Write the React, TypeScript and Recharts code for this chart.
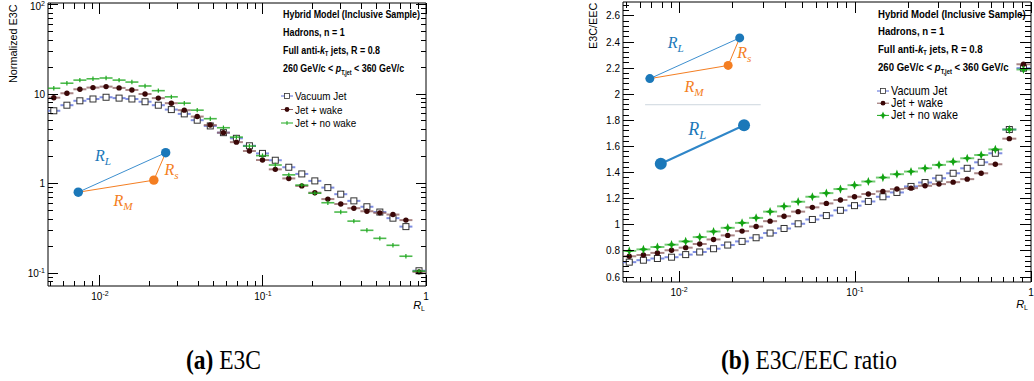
import React from 'react';
import { ScatterChart, Scatter, XAxis, YAxis, ReferenceArea, ReferenceLine, ReferenceDot } from 'recharts';

// R_L bin centres (same binning in both panels)
const rL = [0.00521, 0.00627, 0.00753, 0.00906, 0.0109, 0.0131, 0.0157, 0.0189, 0.0228, 0.0274,
  0.0329, 0.0395, 0.0475, 0.0572, 0.0687, 0.0826, 0.0993, 0.119, 0.144, 0.173,
  0.208, 0.25, 0.3, 0.361, 0.434, 0.521, 0.627, 0.753, 0.906];

// (a) normalized E3C
const e3cVacuum = [6.5, 7.5, 8.4, 8.8, 9.2, 9.0, 8.8, 8.2, 7.5, 6.7, 6.0, 5.1, 4.4, 3.7, 3.2,
  2.64, 2.17, 1.82, 1.52, 1.28, 1.07, 0.9, 0.76, 0.64, 0.55, 0.48, 0.41, 0.33, 0.106];
const e3cWake = [9.1, 10.2, 11.3, 11.8, 12.1, 11.7, 11.1, 10.0, 9.0, 7.9, 6.6, 5.6, 4.5, 3.7, 2.9,
  2.31, 1.83, 1.44, 1.14, 0.94, 0.79, 0.67, 0.59, 0.53, 0.49, 0.47, 0.45, 0.39, 0.103];
const e3cNoWake = [11.6, 13.2, 14.3, 14.8, 15.1, 14.3, 13.6, 12.3, 10.9, 9.3, 7.9, 6.6, 5.3, 4.2, 3.3,
  2.62, 2.05, 1.61, 1.25, 0.96, 0.78, 0.61, 0.48, 0.38, 0.3, 0.244, 0.204, 0.154, 0.105];

// (b) E3C/EEC ratio
const ratioVacuum = [0.714, 0.729, 0.742, 0.752, 0.772, 0.792, 0.817, 0.845, 0.873, 0.901, 0.937, 0.972, 1.008, 1.041,
  1.071, 1.111, 1.147, 1.179, 1.215, 1.248, 1.294, 1.324, 1.357, 1.395, 1.433, 1.479, 1.548, 1.73, 2.2];
const ratioWake = [0.759, 0.769, 0.785, 0.805, 0.825, 0.853, 0.888, 0.919, 0.952, 0.987, 1.028, 1.066, 1.101, 1.134,
  1.164, 1.19, 1.215, 1.236, 1.256, 1.274, 1.281, 1.299, 1.312, 1.327, 1.35, 1.395, 1.464, 1.66, 2.23];
const ratioNoWake = [0.8, 0.812, 0.83, 0.848, 0.873, 0.906, 0.949, 0.977, 1.015, 1.053, 1.101, 1.142, 1.177, 1.215,
  1.243, 1.274, 1.304, 1.332, 1.362, 1.388, 1.408, 1.433, 1.459, 1.484, 1.51, 1.535, 1.578, 1.73, 2.19];

// axis ticks
const xMajor = [0.01, 0.1, 1];
const xMinor = [0.005, 0.006, 0.007, 0.008, 0.009, 0.02, 0.03, 0.04, 0.05, 0.06, 0.07, 0.08, 0.09,
  0.2, 0.3, 0.4, 0.5, 0.6, 0.7, 0.8, 0.9];
const e3cMajor = [0.1, 1, 10, 100];
const e3cMinor = [0.08, 0.09, 0.2, 0.3, 0.4, 0.5, 0.6, 0.7, 0.8, 0.9, 2, 3, 4, 5, 6, 7, 8, 9,
  20, 30, 40, 50, 60, 70, 80, 90];
const ratioMajor = [0.6, 0.8, 1, 1.2, 1.4, 1.6, 1.8, 2, 2.2, 2.4, 2.6];
const ratioMinor = [0.64, 0.68, 0.72, 0.76, 0.84, 0.88, 0.92, 0.96, 1.04, 1.08, 1.12, 1.16,
  1.24, 1.28, 1.32, 1.36, 1.44, 1.48, 1.52, 1.56, 1.64, 1.68, 1.72, 1.76, 1.84, 1.88, 1.92, 1.96,
  2.04, 2.08, 2.12, 2.16, 2.24, 2.28, 2.32, 2.36, 2.44, 2.48, 2.52, 2.56, 2.64, 2.68];

const X_DOMAIN: [number, number] = [0.0048, 1];
const E3C_DOMAIN: [number, number] = [0.0716, 104];
const RATIO_DOMAIN: [number, number] = [0.562, 2.707];

const SANS = '"Liberation Sans", Arial, Helvetica, sans-serif';
const SERIF = '"Liberation Serif", "Times New Roman", serif';
const BLUE_BAR = '#5468d8';
const WAKE_BAR = '#8c5c5c';
const GREEN = '#1ea81e';
const WAKE_DOT = '#3a0707';
const INSET_BLUE = '#1b78b9';
const INSET_ORANGE = '#f47e22';

type Box = { l: number; r: number; t: number; b: number };
const LEFT_BOX: Box = { l: 48, r: 426, t: 3, b: 286 };
const RIGHT_BOX: Box = { l: 63, r: 471, t: 2, b: 282 };

const isIn = (v: number, list: number[]) => list.some((m) => Math.abs(v / m - 1) < 1e-6);

const toPoints = (ys: number[]) => rL.map((x, i) => ({ x, y: ys[i] }));

const powLabel = (v: number) => {
  if (isIn(v, [1])) return <tspan>1</tspan>;
  if (isIn(v, [10])) return <tspan>10</tspan>;
  const e = Math.round(Math.log10(v));
  return (
    <>
      <tspan>10</tspan>
      <tspan fontSize={7} dy={-4}>{`${e}`}</tspan>
    </>
  );
};

const makeXTick = (box: Box, major: number, minor: number) => (p: any) => {
  const v = p.payload.value;
  const isMaj = isIn(v, xMajor);
  const len = isMaj ? major : minor;
  return (
    <g>
      <line x1={p.x} x2={p.x} y1={box.b} y2={box.b - len} stroke="#000" shapeRendering="crispEdges" />
      <line x1={p.x} x2={p.x} y1={box.t} y2={box.t + len} stroke="#000" shapeRendering="crispEdges" />
      {isMaj && (
        <text x={p.x} y={box.b + 14} textAnchor="middle" fontSize={10} fontFamily={SANS} fill="#000">
          {powLabel(v)}
        </text>
      )}
    </g>
  );
};

const makeYTick = (box: Box, majors: number[], log: boolean, major: number, minor: number) => (p: any) => {
  const v = p.payload.value;
  const isMaj = isIn(v, majors);
  const len = isMaj ? major : minor;
  return (
    <g>
      <line x1={box.l} x2={box.l + len} y1={p.y} y2={p.y} stroke="#000" shapeRendering="crispEdges" />
      <line x1={box.r} x2={box.r - len} y1={p.y} y2={p.y} stroke="#000" shapeRendering="crispEdges" />
      {isMaj && (
        <text x={box.l - 3} y={Math.max(p.y + 3.5, 10)} textAnchor="end" fontSize={10} fontFamily={SANS} fill="#000">
          {log ? powLabel(v) : `${Math.round(v * 10) / 10}`}
        </text>
      )}
    </g>
  );
};

const vacuumShape = (half: number) => (p: any) => (
  <g>
    <line x1={p.cx - half} x2={p.cx + half} y1={p.cy} y2={p.cy} stroke={BLUE_BAR} strokeWidth={2} strokeOpacity={0.75} />
    <rect x={p.cx - 3} y={p.cy - 3} width={6} height={6} fill="#fff" stroke="#333" />
  </g>
);

const wakeShape = (half: number) => (p: any) => (
  <g>
    <line x1={p.cx - half} x2={p.cx + half} y1={p.cy} y2={p.cy} stroke={WAKE_BAR} strokeWidth={2} strokeOpacity={0.75} />
    <circle cx={p.cx} cy={p.cy} r={2.7} fill={WAKE_DOT} />
  </g>
);

const plusShape = (half: number) => (p: any) => (
  <g>
    <line x1={p.cx - half} x2={p.cx + half} y1={p.cy} y2={p.cy} stroke={GREEN} strokeWidth={1.6} strokeOpacity={0.8} />
    <line x1={p.cx} x2={p.cx} y1={p.cy - 2.2} y2={p.cy + 2.2} stroke={GREEN} strokeWidth={1.2} />
  </g>
);

const starPath = (cx: number, cy: number, a: number, b: number) =>
  `M${cx},${cy - a}L${cx + b},${cy - b}L${cx + a},${cy}L${cx + b},${cy + b}L${cx},${cy + a}L${cx - b},${cy + b}L${cx - a},${cy}L${cx - b},${cy - b}Z`;

const starShape = (half: number) => (p: any) => (
  <g>
    <line x1={p.cx - half} x2={p.cx + half} y1={p.cy} y2={p.cy} stroke={GREEN} strokeWidth={2} strokeOpacity={0.6} />
    <path d={starPath(p.cx, p.cy, 4.6, 1.3)} fill="#12a312" />
  </g>
);

const insetLabel = (sub: string, color: string, size: number) => (p: any) => (
  <text x={p.cx} y={p.cy + size * 0.3} textAnchor="middle" fill={color} fontFamily={SERIF} fontStyle="italic" fontSize={size}>
    R<tspan fontSize={size * 0.7} dy={size * 0.25}>{sub}</tspan>
  </text>
);

// inset sketch positions, in data coordinates of each panel
const leftInset = { a: { x: 0.00736, y: 0.8 }, b: { x: 0.0253, y: 2.21 }, c: { x: 0.0214, y: 1.09 } };
const rightInset = { a: { x: 0.00682, y: 2.12 }, b: { x: 0.0221, y: 2.432 }, c: { x: 0.019, y: 2.221 } };
const rightBig = { a: { x: 0.00787, y: 1.468 }, b: { x: 0.0234, y: 1.763 } };

const E3CPanel = () => (
  <ScatterChart width={440} height={320} margin={{ top: 3, right: 14, bottom: 4, left: 8 }}>
    <XAxis dataKey="x" type="number" scale="log" domain={X_DOMAIN} allowDataOverflow ticks={[...xMajor, ...xMinor]}
      interval={0} tick={makeXTick(LEFT_BOX, 11, 5.5)} tickLine={false} axisLine={false} height={30} />
    <YAxis dataKey="y" type="number" scale="log" domain={E3C_DOMAIN} allowDataOverflow ticks={[...e3cMajor, ...e3cMinor]}
      interval={0} tick={makeYTick(LEFT_BOX, e3cMajor, true, 10, 5)} tickLine={false} axisLine={false} width={40} />
    <ReferenceArea x1={X_DOMAIN[0]} x2={X_DOMAIN[1]} y1={E3C_DOMAIN[0]} y2={E3C_DOMAIN[1]} fill="none" stroke="#000" strokeOpacity={1} ifOverflow="visible" />
    <ReferenceLine segment={[leftInset.a, leftInset.b]} stroke="#3d8fcf" strokeWidth={1} />
    <ReferenceLine segment={[leftInset.a, leftInset.c]} stroke={INSET_ORANGE} strokeWidth={1} />
    <ReferenceLine segment={[leftInset.c, leftInset.b]} stroke={INSET_ORANGE} strokeWidth={1} />
    <ReferenceDot x={leftInset.a.x} y={leftInset.a.y} r={4.7} fill={INSET_BLUE} stroke="none" />
    <ReferenceDot x={leftInset.b.x} y={leftInset.b.y} r={4.7} fill={INSET_BLUE} stroke="none" />
    <ReferenceDot x={leftInset.c.x} y={leftInset.c.y} r={4.7} fill={INSET_ORANGE} stroke="none" />
    <ReferenceDot x={0.01043} y={2.0} r={0} shape={insetLabel('L', INSET_BLUE, 16)} />
    <ReferenceDot x={0.0275} y={1.42} r={0} shape={insetLabel('s', INSET_ORANGE, 16)} />
    <ReferenceDot x={0.01384} y={0.627} r={0} shape={insetLabel('M', INSET_ORANGE, 16)} />
    <Scatter data={toPoints(e3cVacuum)} shape={vacuumShape(6.5)} isAnimationActive={false} />
    <Scatter data={toPoints(e3cWake)} shape={wakeShape(6.5)} isAnimationActive={false} />
    <Scatter data={toPoints(e3cNoWake)} shape={plusShape(6.5)} isAnimationActive={false} />
  </ScatterChart>
);

const RatioPanel = () => (
  <ScatterChart width={474} height={320} margin={{ top: 2, right: 3, bottom: 8, left: 23 }}>
    <XAxis dataKey="x" type="number" scale="log" domain={X_DOMAIN} allowDataOverflow ticks={[...xMajor, ...xMinor]}
      interval={0} tick={makeXTick(RIGHT_BOX, 11, 5.5)} tickLine={false} axisLine={false} height={30} />
    <YAxis dataKey="y" type="number" domain={RATIO_DOMAIN} allowDataOverflow ticks={[...ratioMajor, ...ratioMinor]}
      interval={0} tick={makeYTick(RIGHT_BOX, ratioMajor, false, 11, 6)} tickLine={false} axisLine={false} width={40} />
    <ReferenceArea x1={X_DOMAIN[0]} x2={X_DOMAIN[1]} y1={RATIO_DOMAIN[0]} y2={RATIO_DOMAIN[1]} fill="none" stroke="#000" strokeOpacity={1} ifOverflow="visible" />
    <ReferenceLine segment={[rightInset.a, rightInset.b]} stroke="#3d8fcf" strokeWidth={1} />
    <ReferenceLine segment={[rightInset.a, rightInset.c]} stroke={INSET_ORANGE} strokeWidth={1} />
    <ReferenceLine segment={[rightInset.c, rightInset.b]} stroke={INSET_ORANGE} strokeWidth={1} />
    <ReferenceDot x={rightInset.a.x} y={rightInset.a.y} r={4.5} fill={INSET_BLUE} stroke="none" />
    <ReferenceDot x={rightInset.b.x} y={rightInset.b.y} r={4.5} fill={INSET_BLUE} stroke="none" />
    <ReferenceDot x={rightInset.c.x} y={rightInset.c.y} r={4.5} fill={INSET_ORANGE} stroke="none" />
    <ReferenceDot x={0.00958} y={2.389} r={0} shape={insetLabel('L', INSET_BLUE, 16)} />
    <ReferenceDot x={0.0235} y={2.313} r={0} shape={insetLabel('s', INSET_ORANGE, 16)} />
    <ReferenceDot x={0.01216} y={2.052} r={0} shape={insetLabel('M', INSET_ORANGE, 16)} />
    <ReferenceLine segment={[{ x: 0.00641, y: 1.92 }, { x: 0.0291, y: 1.92 }]} stroke="#cdd6de" strokeWidth={1} />
    <ReferenceLine segment={[rightBig.a, rightBig.b]} stroke="#2f86c8" strokeWidth={2} />
    <ReferenceDot x={rightBig.a.x} y={rightBig.a.y} r={6} fill={INSET_BLUE} stroke="none" />
    <ReferenceDot x={rightBig.b.x} y={rightBig.b.y} r={6} fill={INSET_BLUE} stroke="none" />
    <ReferenceDot x={0.0127} y={1.73} r={0} shape={insetLabel('L', INSET_BLUE, 18)} />
    <Scatter data={toPoints(ratioVacuum)} shape={vacuumShape(7)} isAnimationActive={false} />
    <Scatter data={toPoints(ratioWake)} shape={wakeShape(7)} isAnimationActive={false} />
    <Scatter data={toPoints(ratioNoWake)} shape={starShape(7)} isAnimationActive={false} />
  </ScatterChart>
);

const Header = ({ x, y0, dy, fs, sx }: { x: number; y0: number; dy: number; fs: number; sx: number }) => {
  const at = (i: number) => `translate(${x},${y0 + i * dy}) scale(${sx},1)`;
  return (
    <g fontFamily={SANS} fontWeight="bold" fontSize={fs} fill="#000">
      <text transform={at(0)}>Hybrid Model (Inclusive Sample)</text>
      <text transform={at(1)}>Hadrons, n = 1</text>
      <text transform={at(2)}>
        Full anti-<tspan fontStyle="italic">k</tspan>
        <tspan fontSize={fs * 0.6} dy={2}>T</tspan>
        <tspan dy={-2}> jets, R = 0.8</tspan>
      </text>
      <text transform={at(3)}>
        260 GeV/c &lt; <tspan fontStyle="italic">p</tspan>
        <tspan fontSize={fs * 0.6} dy={3}>T,jet</tspan>
        <tspan dy={-3}> &lt; 360 GeV/c</tspan>
      </text>
    </g>
  );
};

const Legend = ({ x, y0, dy, fs, sx, star }: { x: number; y0: number; dy: number; fs: number; sx: number; star: boolean }) => {
  const cy = (i: number) => y0 + i * dy - 4;
  const names = ['Vacuum Jet', 'Jet + wake', 'Jet + no wake'];
  return (
    <g>
      <line x1={x - 6} x2={x + 6} y1={cy(0)} y2={cy(0)} stroke={BLUE_BAR} />
      <rect x={x - 2.5} y={cy(0) - 2.5} width={5} height={5} fill="#fff" stroke="#333" strokeWidth={0.8} />
      <line x1={x - 6} x2={x + 6} y1={cy(1)} y2={cy(1)} stroke={WAKE_BAR} />
      <circle cx={x} cy={cy(1)} r={2.4} fill={WAKE_DOT} />
      <line x1={x - 6} x2={x + 6} y1={cy(2)} y2={cy(2)} stroke={GREEN} />
      {star ? (
        <path d={starPath(x, cy(2), 4, 1.2)} fill="#12a312" />
      ) : (
        <line x1={x} x2={x} y1={cy(2) - 2} y2={cy(2) + 2} stroke={GREEN} />
      )}
      {names.map((n, i) => (
        <text key={n} transform={`translate(${x + 8},${y0 + i * dy}) scale(${sx},1)`} fontFamily={SANS} fontSize={fs} fill="#000">
          {n}
        </text>
      ))}
    </g>
  );
};

const App: React.FC = () => (
  <div style={{ position: 'absolute', left: 0, top: 0, width: 1034, height: 381, background: '#fff', overflow: 'hidden' }}>
    <div style={{ position: 'absolute', left: 0, top: 0 }}>
      <E3CPanel />
    </div>
    <div style={{ position: 'absolute', left: 560, top: 0 }}>
      <RatioPanel />
    </div>
    <svg width={1034} height={381} style={{ position: 'absolute', left: 0, top: 0, pointerEvents: 'none' }}>
      <text transform="translate(17,83) rotate(-90)" fontFamily={SANS} fontSize={10.8}>Normalized E3C</text>
      <text transform="translate(597,49) rotate(-90)" fontFamily={SANS} fontSize={10.8}>E3C/EEC</text>

      <text x={425} y={309} textAnchor="end" fontFamily={SANS} fontSize={11}>
        <tspan fontStyle="italic">R</tspan>
        <tspan fontSize={7} dy={2}>L</tspan>
      </text>
      <text x={1028} y={308} textAnchor="end" fontFamily={SANS} fontSize={11}>
        <tspan fontStyle="italic">R</tspan>
        <tspan fontSize={7} dy={2}>L</tspan>
      </text>

      <Header x={283} y0={18} dy={18} fs={11} sx={0.81} />
      <Header x={878} y0={17.5} dy={17.8} fs={11.5} sx={0.835} />
      <Legend x={287} y0={100} dy={13.5} fs={11.5} sx={0.86} star={false} />
      <Legend x={883} y0={95} dy={12.2} fs={12} sx={0.9} star={true} />

      <text transform="translate(223.5,369) scale(0.87,1)" textAnchor="middle" fontFamily={SERIF} fontSize={27}>
        <tspan fontWeight="bold">(a)</tspan> E3C
      </text>
      <text transform="translate(809,369) scale(0.87,1)" textAnchor="middle" fontFamily={SERIF} fontSize={27}>
        <tspan fontWeight="bold">(b)</tspan> E3C/EEC ratio
      </text>
    </svg>
  </div>
);

export default App;
